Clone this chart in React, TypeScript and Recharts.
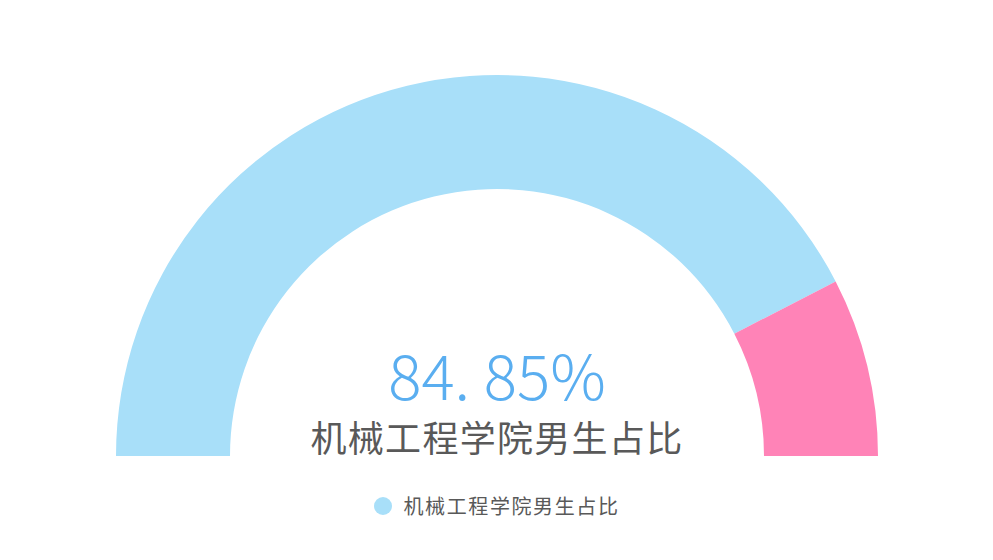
import React from 'react';
import { PieChart, Pie, Cell, Legend } from 'recharts';

const names = ['机械工程学院男生占比', '其他'];
const values = [84.85, 15.15];
const colors = ['#a8dff9', '#ff83b7'];
const centerValue = '84. 85%';
const centerLabel = '机械工程学院男生占比';

const data = names.map((name, i) => ({ name, value: values[i] }));

const LegendContent = () => (
  <div style={{ display: 'flex', justifyContent: 'center', alignItems: 'center' }}>
    <svg width={18} height={18} style={{ marginRight: 12 }}>
      <circle cx={9} cy={9} r={9} fill={colors[0]} />
    </svg>
    <span
      style={{
        fontFamily: '"Noto Sans CJK SC", sans-serif',
        fontSize: 20,
        letterSpacing: 1.6,
        color: '#595959',
      }}
    >
      {names[0]}
    </span>
  </div>
);

export default function App() {
  return (
    <div style={{ position: 'absolute', left: 0, top: 0, background: '#fff' }}>
      <PieChart width={993} height={560}>
        <Pie
          data={data}
          dataKey="value"
          nameKey="name"
          cx={492}
          cy={451}
          startAngle={180}
          endAngle={0}
          innerRadius={267}
          outerRadius={381}
          stroke="none"
          isAnimationActive={false}
        >
          {data.map((d, i) => (
            <Cell key={d.name} fill={colors[i]} />
          ))}
        </Pie>
        <text
          x={497}
          y={400}
          textAnchor="middle"
          fill="#5aaef0"
          fontSize={62}
          fontWeight={300}
          fontFamily='"Noto Sans CJK SC", sans-serif'
        >
          {centerValue}
        </text>
        <text
          x={497}
          y={452}
          textAnchor="middle"
          fill="#595959"
          fontSize={36}
          letterSpacing={1.3}
          fontFamily='"Noto Sans CJK SC", sans-serif'
        >
          {centerLabel}
        </text>
        <Legend
          content={<LegendContent />}
          verticalAlign="bottom"
          wrapperStyle={{ top: 491, left: 0, width: 993 }}
        />
      </PieChart>
    </div>
  );
}
